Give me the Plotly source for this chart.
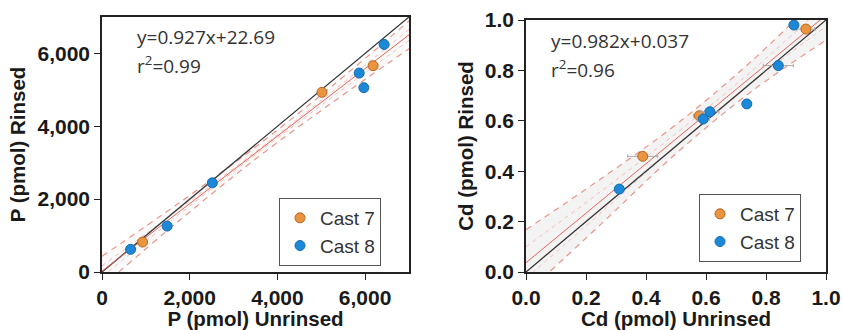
import plotly.graph_objects as go

# ---------------- data ----------------
# Panel A: phosphorus
p_cast7_x = [925, 5015, 6182]
p_cast7_y = [822, 4932, 5663]
p_cast8_x = [652, 1485, 2515, 5864, 5970, 6432]
p_cast8_y = [622, 1260, 2447, 5460, 5060, 6247]
p_fit_x = [0, 7000]
p_fit_y = [22.69, 6511.69]
p_one_x = [0, 7000]
p_one_y = [0, 7000]
p_band_x = [0, 1750, 3500, 5250, 7000]
p_pred_up = [430, 1890, 3430, 5110, 6890]
p_pred_lo = [-400, 1400, 3100, 4650, 6130]
p_conf_up = [170, 1720, 3300, 4950, 6660]
p_conf_lo = [-130, 1570, 3220, 4800, 6360]

# Panel B: cadmium
cd_cast7_x = [0.389, 0.578, 0.933]
cd_cast7_y = [0.459, 0.620, 0.964]
cd_cast7_err = [0.05, 0.02, 0.03]
cd_cast8_x = [0.311, 0.591, 0.613, 0.736, 0.841, 0.893]
cd_cast8_y = [0.329, 0.607, 0.636, 0.667, 0.819, 0.980]
cd_cast8_err = [0.0, 0.02, 0.03, 0.0, 0.05, 0.0]
cd_fit_x = [0, 1.0]
cd_fit_y = [0.037, 1.019]
cd_one_x = [0, 1.0]
cd_one_y = [0, 1.0]
cd_band_x = [0, 0.25, 0.5, 0.75, 1.0]
cd_pred_up = [0.168, 0.370, 0.585, 0.835, 1.120]
cd_pred_lo = [-0.085, 0.190, 0.470, 0.715, 0.920]
cd_conf_up = [0.100, 0.320, 0.550, 0.795, 1.065]
cd_conf_lo = [-0.025, 0.235, 0.500, 0.750, 0.975]

ORANGE = "#ea9440"
ORANGE_E = "#b8651e"
BLUE = "#1c88d8"
BLUE_E = "#156bb0"
RED = "#e2665a"
DASH = "#e8968a"
DASH2 = "#f2c0b8"

fig = go.Figure()


def add_panel(xa, ya, legend, bx, pu, pl, cu, cl, fx, fy, ox, oy,
              c7x, c7y, c8x, c8y, fillcol, e7=None, e8=None):
    # shaded prediction band
    fig.add_trace(go.Scatter(x=bx, y=pl, mode="lines", line=dict(width=0, shape="spline"),
                             showlegend=False, hoverinfo="skip", xaxis=xa, yaxis=ya))
    fig.add_trace(go.Scatter(x=bx, y=pu, mode="lines", line=dict(width=0, shape="spline"),
                             fill="tonexty", fillcolor=fillcol,
                             showlegend=False, hoverinfo="skip", xaxis=xa, yaxis=ya))
    for yy in (pu, pl):
        fig.add_trace(go.Scatter(x=bx, y=yy, mode="lines",
                                 line=dict(color=DASH, width=1.2, dash="6px,5px", shape="spline"),
                                 showlegend=False, hoverinfo="skip", xaxis=xa, yaxis=ya))
    for yy in (cu, cl):
        fig.add_trace(go.Scatter(x=bx, y=yy, mode="lines",
                                 line=dict(color=DASH2, width=1, dash="4px,4px", shape="spline"),
                                 showlegend=False, hoverinfo="skip", xaxis=xa, yaxis=ya))
    fig.add_trace(go.Scatter(x=ox, y=oy, mode="lines", line=dict(color="#333333", width=1.3),
                             showlegend=False, hoverinfo="skip", xaxis=xa, yaxis=ya))
    fig.add_trace(go.Scatter(x=fx, y=fy, mode="lines", line=dict(color=RED, width=1),
                             showlegend=False, hoverinfo="skip", xaxis=xa, yaxis=ya))
    ex7 = dict(type="data", array=e7, color="#aaaaaa", thickness=1, width=2) if e7 else None
    ex8 = dict(type="data", array=e8, color="#aaaaaa", thickness=1, width=2) if e8 else None
    fig.add_trace(go.Scatter(x=c7x, y=c7y, mode="markers", name="Cast 7",
                             marker=dict(color=ORANGE, size=10, line=dict(color=ORANGE_E, width=1)),
                             error_x=ex7, legend=legend, xaxis=xa, yaxis=ya))
    fig.add_trace(go.Scatter(x=c8x, y=c8y, mode="markers", name="Cast 8",
                             marker=dict(color=BLUE, size=10, line=dict(color=BLUE_E, width=1)),
                             error_x=ex8, legend=legend, xaxis=xa, yaxis=ya))


add_panel("x", "y", "legend", p_band_x, p_pred_up, p_pred_lo, p_conf_up, p_conf_lo,
          p_fit_x, p_fit_y, p_one_x, p_one_y, p_cast7_x, p_cast7_y, p_cast8_x, p_cast8_y,
          "rgba(220,220,220,0.18)")
add_panel("x2", "y2", "legend2", cd_band_x, cd_pred_up, cd_pred_lo, cd_conf_up, cd_conf_lo,
          cd_fit_x, cd_fit_y, cd_one_x, cd_one_y, cd_cast7_x, cd_cast7_y, cd_cast8_x, cd_cast8_y,
          "rgba(215,215,215,0.30)", cd_cast7_err, cd_cast8_err)

W, H = 843, 330
TICKFONT = dict(family="Liberation Sans, Arial, sans-serif", size=21, color="#1a1a1a", weight="bold")
TITLEFONT = dict(family="Liberation Sans, Arial, sans-serif", size=20.5, color="#1a1a1a", weight="bold")
ax_common = dict(showline=True, linecolor="#222222", linewidth=1.5, mirror=True,
                 ticks="outside", ticklen=6, tickwidth=1.3, tickcolor="#222222",
                 showgrid=False, zeroline=False, tickfont=TICKFONT, automargin=False)

fig.update_layout(
    width=W, height=H, margin=dict(l=0, r=0, t=0, b=0),
    paper_bgcolor="white", plot_bgcolor="white",
    xaxis=dict(domain=[102 / W, 409 / W], range=[0, 7000], tickvals=[0, 2000, 4000, 6000],
               tickformat=",", anchor="y",
               title=dict(text="P (pmol) Unrinsed", font=TITLEFONT, standoff=2), **ax_common),
    yaxis=dict(domain=[(H - 272) / H, (H - 17) / H], range=[0, 7000], tickvals=[0, 2000, 4000, 6000],
               tickformat=",", anchor="x",
               title=dict(text="P (pmol) Rinsed", font=TITLEFONT, standoff=6), **ax_common),
    xaxis2=dict(domain=[526 / W, 826 / W], range=[0, 1.0], tickvals=[0, 0.2, 0.4, 0.6, 0.8, 1.0],
                tickformat=".1f", anchor="y2",
                title=dict(text="Cd (pmol) Unrinsed", font=TITLEFONT, standoff=2), **ax_common),
    yaxis2=dict(domain=[(H - 272) / H, (H - 20) / H], range=[0, 1.0], tickvals=[0, 0.2, 0.4, 0.6, 0.8, 1.0],
                tickformat=".1f", anchor="x2",
                title=dict(text="Cd (pmol) Rinsed", font=TITLEFONT, standoff=6), **ax_common),
    legend=dict(x=279 / W, y=(H - 198) / H, xanchor="left", yanchor="top",
                bordercolor="#555555", borderwidth=1, bgcolor="white", traceorder="normal",
                font=dict(family="Liberation Sans, Arial, sans-serif", size=19, color="#333333"),
                itemwidth=30, tracegroupgap=0),
    legend2=dict(x=699 / W, y=(H - 194) / H, xanchor="left", yanchor="top",
                 bordercolor="#555555", borderwidth=1, bgcolor="white", traceorder="normal",
                 font=dict(family="Liberation Sans, Arial, sans-serif", size=19, color="#333333"),
                 itemwidth=30, tracegroupgap=0),
)

ANN = dict(family="Open Sans, sans-serif", size=19, color="#333333")
fig.add_annotation(xref="paper", yref="paper", x=135 / W, y=(H - 37) / H, xanchor="left", yanchor="middle",
                   text="y=0.927x+22.69", showarrow=False, font=ANN)
fig.add_annotation(xref="paper", yref="paper", x=135 / W, y=(H - 65) / H, xanchor="left", yanchor="middle",
                   text="r<sup>2</sup>=0.99", showarrow=False, font=ANN)
fig.add_annotation(xref="paper", yref="paper", x=549 / W, y=(H - 41) / H, xanchor="left", yanchor="middle",
                   text="y=0.982x+0.037", showarrow=False, font=ANN)
fig.add_annotation(xref="paper", yref="paper", x=549 / W, y=(H - 69) / H, xanchor="left", yanchor="middle",
                   text="r<sup>2</sup>=0.96", showarrow=False, font=ANN)

fig.write_html("out.html", config={"displayModeBar": False},
               post_script="document.body.style.margin='0px';document.body.style.overflow='hidden';")
